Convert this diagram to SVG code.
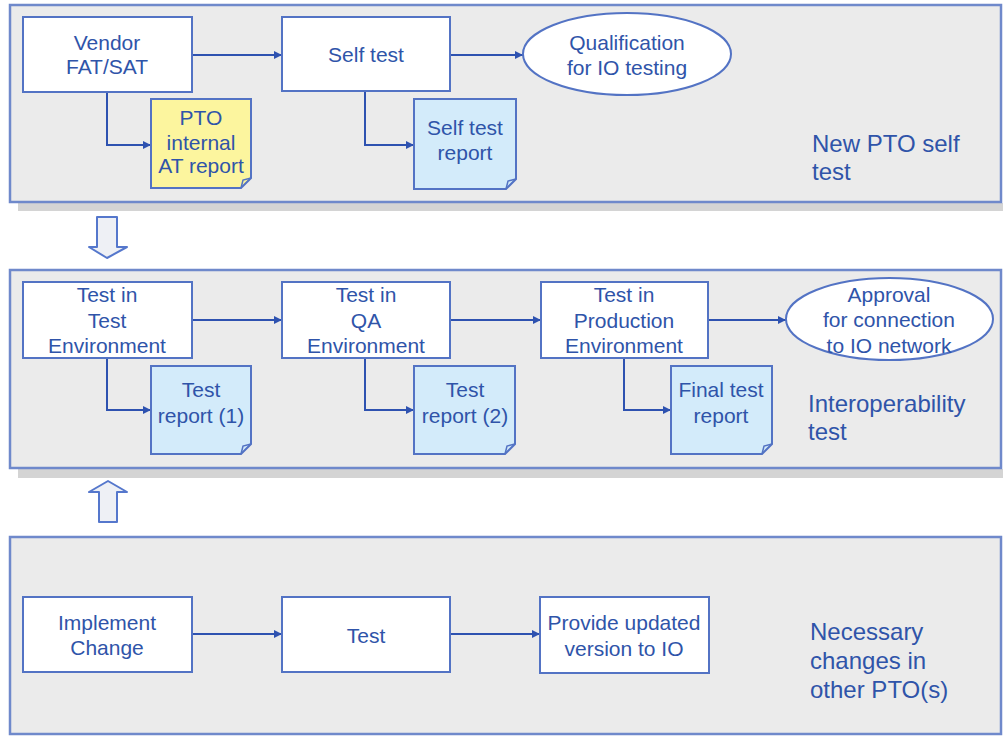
<svg xmlns="http://www.w3.org/2000/svg" width="1003" height="736" viewBox="0 0 1003 736">
<defs>
<style>
.panel{fill:#EBEBEB;stroke:#6F89CB;stroke-width:2.5}
.shadow{fill:#D4D4D4}
.box{fill:#FFFFFF;stroke:#5373C4;stroke-width:2}
.doc-y{fill:#FCF59E;stroke:#5373C4;stroke-width:2}
.doc-b{fill:#D3EBFA;stroke:#5373C4;stroke-width:2}
.fold{fill:none;stroke:#5373C4;stroke-width:1.5}
.ell{fill:#FFFFFF;stroke:#5373C4;stroke-width:2}
.t{font-family:"Liberation Sans",Arial,sans-serif;font-size:21px;fill:#2F54A9;text-anchor:middle}
.lbl{font-family:"Liberation Sans",Arial,sans-serif;font-size:24px;fill:#2F54A9}
.conn{fill:none;stroke:#2E52B0;stroke-width:2}
.blk{fill:#EEF0F5;stroke:#5577CC;stroke-width:2;stroke-linejoin:round}
</style>
<marker id="ah" viewBox="0 0 10 10" refX="10" refY="5" markerWidth="9" markerHeight="8" markerUnits="userSpaceOnUse" orient="auto">
<path d="M0,0 L10,5 L0,10 Z" fill="#2E52B0"/>
</marker>
</defs>
<rect width="1003" height="736" fill="#FFFFFF"/>

<g id="panel-self-test">
<rect class="shadow" x="18" y="203" width="985" height="8"/>
<rect class="panel" x="10" y="5" width="991" height="197"/>
<text class="lbl" x="812" y="152">New PTO self</text>
<text class="lbl" x="812" y="180">test</text>
</g>

<g id="panel-interop">
<rect class="shadow" x="18" y="469" width="985" height="9"/>
<rect class="panel" x="10" y="270" width="991" height="198"/>
<text class="lbl" x="808" y="412">Interoperability</text>
<text class="lbl" x="808" y="440">test</text>
</g>

<g id="panel-changes">
<rect class="panel" x="10" y="537" width="991" height="197"/>
<text class="lbl" x="810" y="640">Necessary</text>
<text class="lbl" x="810" y="669">changes in</text>
<text class="lbl" x="810" y="698">other PTO(s)</text>
</g>

<g id="arrow-down">
<path class="blk" d="M97,217 H117 V247 H127 L107,258 L89,247 H97 Z"/>
</g>
<g id="arrow-up">
<path class="blk" d="M99,522 H117 V492 H127 L108,481 L89,492 H99 Z"/>
</g>

<g id="connectors">
<path class="conn" d="M192,55 H282" marker-end="url(#ah)"/>
<path class="conn" d="M450,55 H523" marker-end="url(#ah)"/>
<path class="conn" d="M107,92 V145 H151" marker-end="url(#ah)"/>
<path class="conn" d="M365,91 V145 H414" marker-end="url(#ah)"/>
<path class="conn" d="M192,320 H282" marker-end="url(#ah)"/>
<path class="conn" d="M450,320 H541" marker-end="url(#ah)"/>
<path class="conn" d="M708,320 H786" marker-end="url(#ah)"/>
<path class="conn" d="M107,358 V410 H151" marker-end="url(#ah)"/>
<path class="conn" d="M365,358 V410 H414" marker-end="url(#ah)"/>
<path class="conn" d="M624,358 V410 H671" marker-end="url(#ah)"/>
<path class="conn" d="M192,634 H282" marker-end="url(#ah)"/>
<path class="conn" d="M450,634 H540" marker-end="url(#ah)"/>
</g>

<g id="vendor">
<rect class="box" x="23" y="17" width="169" height="75"/>
<text class="t" x="107" y="50">Vendor</text>
<text class="t" x="107" y="74">FAT/SAT</text>
</g>
<g id="selftest">
<rect class="box" x="282" y="17" width="168" height="74"/>
<text class="t" x="366" y="62">Self test</text>
</g>
<g id="qualification">
<ellipse class="ell" cx="627" cy="54" rx="104" ry="41"/>
<text class="t" x="627" y="50">Qualification</text>
<text class="t" x="627" y="75">for IO testing</text>
</g>
<g id="pto-report">
<path class="doc-y" d="M151,99 H251 V178 L241,188 H151 Z"/>
<path class="fold" d="M241,188 L243,180 L251,178"/>
<text class="t" x="201" y="125">PTO</text>
<text class="t" x="201" y="150">internal</text>
<text class="t" x="201" y="173">AT report</text>
</g>
<g id="selftest-report">
<path class="doc-b" d="M414,99 H516 V179 L506,189 H414 Z"/>
<path class="fold" d="M506,189 L508,181 L516,179"/>
<text class="t" x="465" y="135">Self test</text>
<text class="t" x="465" y="160">report</text>
</g>

<g id="test-env">
<rect class="box" x="23" y="282" width="169" height="76"/>
<text class="t" x="107" y="302">Test in</text>
<text class="t" x="107" y="328">Test</text>
<text class="t" x="107" y="353">Environment</text>
</g>
<g id="qa-env">
<rect class="box" x="282" y="282" width="168" height="76"/>
<text class="t" x="366" y="302">Test in</text>
<text class="t" x="366" y="328">QA</text>
<text class="t" x="366" y="353">Environment</text>
</g>
<g id="prod-env">
<rect class="box" x="541" y="282" width="167" height="76"/>
<text class="t" x="624" y="302">Test in</text>
<text class="t" x="624" y="328">Production</text>
<text class="t" x="624" y="353">Environment</text>
</g>
<g id="approval">
<ellipse class="ell" cx="889.5" cy="319" rx="103.5" ry="41"/>
<text class="t" x="889" y="302">Approval</text>
<text class="t" x="889" y="327">for connection</text>
<text class="t" x="889" y="353">to IO network</text>
</g>
<g id="report1">
<path class="doc-b" d="M151,366 H251 V444 L241,454 H151 Z"/>
<path class="fold" d="M241,454 L243,446 L251,444"/>
<text class="t" x="201" y="397">Test</text>
<text class="t" x="201" y="423">report (1)</text>
</g>
<g id="report2">
<path class="doc-b" d="M414,366 H515 V444 L505,454 H414 Z"/>
<path class="fold" d="M505,454 L507,446 L515,444"/>
<text class="t" x="465" y="397">Test</text>
<text class="t" x="465" y="423">report (2)</text>
</g>
<g id="final-report">
<path class="doc-b" d="M671,366 H772 V444 L762,454 H671 Z"/>
<path class="fold" d="M762,454 L764,446 L772,444"/>
<text class="t" x="721" y="397">Final test</text>
<text class="t" x="721" y="423">report</text>
</g>

<g id="implement">
<rect class="box" x="23" y="597" width="169" height="75"/>
<text class="t" x="107" y="630">Implement</text>
<text class="t" x="107" y="655">Change</text>
</g>
<g id="test">
<rect class="box" x="282" y="597" width="168" height="75"/>
<text class="t" x="366" y="643">Test</text>
</g>
<g id="provide">
<rect class="box" x="540" y="597" width="169" height="76"/>
<text class="t" x="624" y="630">Provide updated</text>
<text class="t" x="624" y="656">version to IO</text>
</g>
</svg>
